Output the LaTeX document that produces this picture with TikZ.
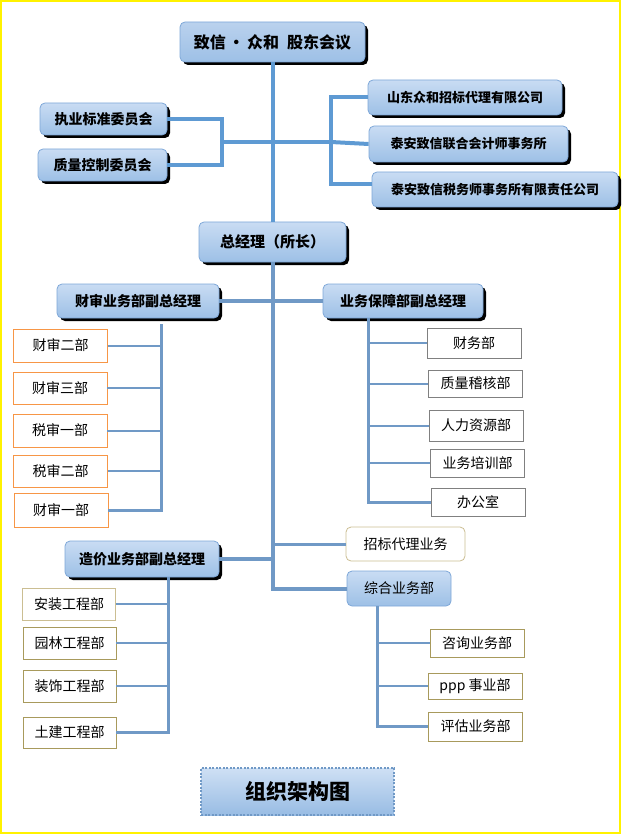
\documentclass[tikz,border=0pt]{standalone}
\usepackage{fontspec}
\setmainfont{Noto Sans CJK SC}
\usetikzlibrary{shadows}
\definecolor{bluetop}{HTML}{C9DCF3}
\definecolor{bluebot}{HTML}{9DC0E6}
\definecolor{bluebd}{HTML}{7EA7D8}
\definecolor{linetop}{HTML}{5E9AD3}
\definecolor{linemid}{HTML}{7099C6}
\definecolor{orangebd}{HTML}{F79646}
\definecolor{graybd}{HTML}{808080}
\definecolor{tanbd}{HTML}{A89A5C}
\definecolor{tanlt}{HTML}{CBBE92}

\begin{document}
\begin{tikzpicture}[x=1pt, y=-1pt,
	tab/.style={draw=bluebd, line width=0.8pt, rounded corners=5pt, top color=bluetop, bottom color=bluebot, font=\bfseries\fontsize{14}{16}\selectfont, inner sep=0pt},
	leader/.style={tab, general shadow={fill=black, shadow xshift=3pt, shadow yshift=-3pt}},
	unit/.style={draw=#1, line width=0.8pt, fill=white, minimum width=94pt, minimum height=32pt, font=\fontsize{14}{16}\selectfont, inner sep=0pt},
	topline/.style={draw=linetop, line width=4pt},
	midline/.style={draw=linemid, line width=4pt},
	stem/.style={draw=linemid, line width=3pt},
	twig/.style={draw=linemid, line width=2pt}]
	
	\useasboundingbox (0,0) rectangle (621,834);
	\draw[yellow, line width=2pt] (1,1) rectangle (620,833);
	
	\node[leader, minimum width=185pt, minimum height=40pt, top color=bluetop!80!bluebd, bottom color=bluebot, font=\bfseries\fontsize{16}{18}\selectfont] (gd) at (272.5,42) {致信\,·\,众和\enspace 股东会议};
	\node[leader, minimum width=127pt, minimum height=32pt] (zy) at (103.5,119) {执业标准委员会};
	\node[leader, minimum width=129pt, minimum height=32pt] (zl) at (102.5,165) {质量控制委员会};
	\node[leader, minimum width=194pt, minimum height=35pt, font=\bfseries\fontsize{13}{15}\selectfont] (sd) at (465,97.5) {山东众和招标代理有限公司};
	\node[leader, minimum width=199pt, minimum height=36pt, font=\bfseries\fontsize{13}{15}\selectfont] (sa) at (468.5,144) {泰安致信联合会计师事务所};
	\node[leader, minimum width=246pt, minimum height=35pt, font=\bfseries\fontsize{13}{15}\selectfont] (sw) at (495,189.5) {泰安致信税务师事务所有限责任公司};
	
	\node[leader, minimum width=147pt, minimum height=40pt, font=\bfseries\fontsize{15}{17}\selectfont] (zjl) at (272.5,242) {总经理（所长）};
	\node[leader, minimum width=162pt, minimum height=34pt] (cs) at (138,301) {财审业务部副总经理};
	\node[leader, minimum width=160pt, minimum height=34pt] (bz) at (403,301) {业务保障部副总经理};
	
	\node[unit=orangebd, minimum height=33pt] (cs1) at (60.5,345.5) {财审二部};
	\node[unit=orangebd] (cs2) at (60,388) {财审三部};
	\node[unit=orangebd, minimum height=33pt] (cs3) at (60,430.5) {税审一部};
	\node[unit=orangebd] (cs4) at (60.5,471) {税审二部};
	\node[unit=orangebd, minimum height=34pt] (cs5) at (61,510) {财审一部};
	
	\node[unit=graybd, minimum height=30pt] (bz1) at (474,343) {财务部};
	\node[unit=graybd, minimum height=27pt] (bz2) at (475.5,383.5) {质量稽核部};
	\node[unit=graybd, minimum height=31pt] (bz3) at (476,425.5) {人力资源部};
	\node[unit=graybd, minimum height=28pt] (bz4) at (477.5,463) {业务培训部};
	\node[unit=graybd, minimum height=28pt] (bz5) at (478,502) {办公室};
	
	\node[unit=tanlt, rounded corners=5pt, minimum width=119pt, minimum height=34pt] (zb) at (405.5,544) {招标代理业务};
	\node[tab, minimum width=104pt, minimum height=35pt, font=\fontsize{14}{16}\selectfont] (zh) at (399,588.5) {综合业务部};
	\node[leader, minimum width=154pt, minimum height=36pt] (zj) at (142,559) {造价业务部副总经理};
	
	\node[unit=tanlt, minimum width=93pt] (zj1) at (69,604) {安装工程部};
	\node[unit=tanbd, minimum width=93pt] (zj2) at (69.5,643) {园林工程部};
	\node[unit=tanbd, minimum width=93pt] (zj3) at (69.5,686) {装饰工程部};
	\node[unit=tanbd, minimum width=93pt, minimum height=31pt] (zj4) at (69.5,732.5) {土建工程部};
	
	\node[unit=tanbd, minimum height=28pt] (zh1) at (477,643) {咨询业务部};
	\node[unit=tanbd, minimum height=26pt] (zh2) at (475,686) {ppp 事业部};
	\node[unit=tanbd, minimum height=29pt] (zh3) at (475.5,726.5) {评估业务部};
	
	\node[draw=linemid, line width=2pt, dash pattern=on 2pt off 1.5pt, top color=bluetop!90!white, bottom color=bluebot!85!bluebd, minimum width=193pt, minimum height=47pt, font=\bfseries\fontsize{21}{24}\selectfont] (tt) at (297.5,791.5) {组织架构图};
	
	\coordinate (jL) at (222,142);
	\coordinate (jR) at (331,142);
	\coordinate (csT) at (161,324);
	\coordinate (bzT) at (368,318);
	\coordinate (zjT) at (168,577);
	\coordinate (zhT) at (377,606);
	
	\path[topline] (gd) edge (zjl);
	\draw[topline] (zy.east) -| (jL) |- (zl.east);
	\path[topline] (jL) edge (jR);
	\draw[topline] (sd.west) -| (jR) |- ([yshift=5pt]sw.west);
	\path[topline] (jR) edge (sa.west);
	
	\draw[midline] (zjl) |- (zh.west);
	\path[midline] (cs) edge (bz);
	\path[midline] (zj.east) edge (zj.east -| zjl.south);
	\path[stem] (zb.west -| zjl.south) edge (zb.west);
	
	\draw[stem] (csT) |- (cs5.east);
	\foreach \i in {1,...,4}
		\path[twig] (cs\i.east) edge (cs\i.east -| csT);
	
	\draw[stem] (bzT) |- (bz5.west);
	\foreach \i in {1,...,4}
		\path[twig] (bz\i.west -| bzT) edge (bz\i.west);
	
	\draw[stem] (zjT) |- (zj4.east);
	\foreach \i in {1,...,3}
		\path[twig] (zj\i.east) edge (zj\i.east -| zjT);
	
	\draw[stem] (zhT) |- (zh3.west);
	\foreach \i in {1,2}
		\path[twig] (zh\i.west -| zhT) edge (zh\i.west);
	
	\end{tikzpicture}
\end{document}
